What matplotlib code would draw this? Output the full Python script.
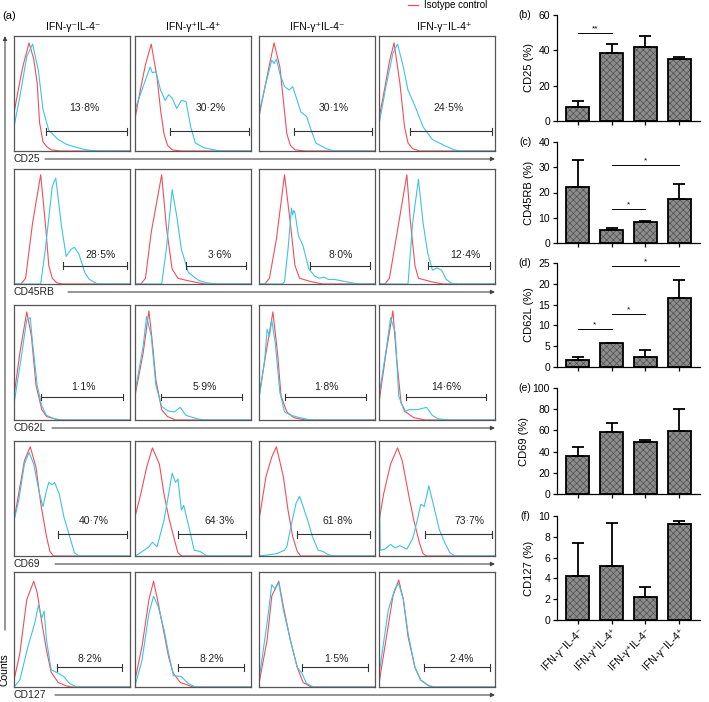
import matplotlib.pyplot as plt

plt.rcParams['font.family'] = ['Liberation Sans', 'DejaVu Sans']
plt.rcParams['hatch.linewidth'] = 0.5

# ---------------------------------------------------------------
# data: histogram traces, (x, y) as fraction of panel width/height
# ---------------------------------------------------------------
groups = ['IFN-\u03b3\u207bIL-4\u207b', 'IFN-\u03b3\u207aIL-4\u207a',
          'IFN-\u03b3\u207aIL-4\u207b', 'IFN-\u03b3\u207bIL-4\u207a']
markers = ['CD25', 'CD45RB', 'CD62L', 'CD69', 'CD127']

cd25_iso = [
    [(0, .33), (.04, .55), (.08, .75), (.13, .94), (.17, .80), (.20, .59), (.22, .25), (.25, .08), (.28, .04), (.32, .01), (.40, 0), (1, 0)],
    [(0, .28), (.04, .50), (.09, .75), (.14, .93), (.19, .64), (.22, .36), (.25, .15), (.28, .05), (.32, .01), (.40, 0), (1, 0)],
    [(0, .30), (.05, .55), (.09, .75), (.13, .94), (.18, .73), (.21, .44), (.24, .15), (.27, .05), (.31, .01), (.40, 0), (1, 0)],
    [(0, .28), (.05, .55), (.09, .78), (.13, .94), (.18, .59), (.22, .21), (.25, .07), (.29, .02), (.35, 0), (1, 0)],
]
cd25_stain = [
    [(0, .21), (.05, .47), (.11, .82), (.16, .93), (.21, .70), (.25, .36), (.30, .18), (.38, .10), (.45, .06), (.51, .04), (.58, .02), (.66, .005), (.72, 0), (1, 0)],
    [(0, .36), (.07, .56), (.13, .73), (.15, .68), (.18, .69), (.22, .53), (.26, .44), (.29, .49), (.32, .46), (.36, .37), (.40, .44), (.44, .43), (.48, .21), (.52, .07), (.59, .03), (.68, .01), (.75, 0), (1, 0)],
    [(0, .33), (.06, .59), (.11, .79), (.13, .76), (.15, .80), (.18, .67), (.22, .56), (.26, .53), (.29, .56), (.32, .47), (.36, .34), (.41, .30), (.45, .18), (.49, .07), (.58, .02), (.65, 0), (1, 0)],
    [(0, .23), (.06, .56), (.12, .85), (.16, .93), (.21, .73), (.25, .53), (.31, .39), (.38, .21), (.46, .10), (.58, .04), (.65, .01), (.70, 0), (1, 0)],
]
cd45rb_iso = [
    [(0, 0), (.06, 0), (.10, .05), (.16, .53), (.23, .95), (.27, .53), (.30, .16), (.33, .05), (.37, .01), (.42, 0), (1, 0)],
    [(0, 0), (.05, 0), (.09, .05), (.14, .45), (.23, .95), (.27, .50), (.32, .13), (.37, .05), (.45, .03), (.55, .01), (.60, 0), (1, 0)],
    [(0, 0), (.05, 0), (.09, .05), (.15, .39), (.22, .95), (.27, .53), (.31, .16), (.35, .05), (.45, .02), (.55, 0), (1, 0)],
    [(0, 0), (.05, 0), (.09, .05), (.17, .53), (.24, .95), (.27, .55), (.31, .16), (.34, .05), (.45, .02), (.55, 0), (1, 0)],
]
cd45rb_stain = [
    [(0, 0), (.23, 0), (.27, .30), (.33, .85), (.36, .92), (.41, .50), (.45, .24), (.49, .30), (.52, .32), (.56, .26), (.61, .10), (.65, .04), (.72, 0), (1, 0)],
    [(0, 0), (.23, 0), (.27, .30), (.32, .82), (.36, .59), (.40, .30), (.46, .10), (.55, .03), (.62, .01), (.70, 0), (1, 0)],
    [(0, 0), (.20, 0), (.22, .02), (.25, .30), (.28, .66), (.29, .60), (.30, .64), (.31, .62), (.34, .42), (.38, .33), (.43, .13), (.48, .07), (.52, .05), (.56, .06), (.60, .04), (.65, .04), (.75, .02), (.85, 0), (1, 0)],
    [(0, 0), (.25, 0), (.29, .53), (.34, .91), (.38, .53), (.42, .27), (.46, .12), (.50, .14), (.54, .12), (.58, .04), (.62, .01), (.66, 0), (1, 0)],
]
cd62l_iso = [
    [(0, .21), (.05, .58), (.11, .94), (.15, .73), (.19, .30), (.24, .09), (.28, .03), (.35, .01), (.40, 0), (1, 0)],
    [(0, .21), (.07, .58), (.12, .95), (.15, .67), (.18, .35), (.23, .09), (.28, .03), (.35, 0), (1, 0)],
    [(0, .21), (.06, .58), (.12, .94), (.16, .58), (.19, .21), (.24, .07), (.30, .02), (.40, 0), (1, 0)],
    [(0, .15), (.06, .58), (.12, .95), (.15, .55), (.19, .15), (.23, .07), (.30, .02), (.40, 0), (1, 0)],
]
cd62l_stain = [
    [(0, .14), (.06, .53), (.11, .87), (.14, .89), (.16, .67), (.20, .30), (.24, .12), (.28, .04), (.35, .01), (.40, 0), (1, 0)],
    [(0, .24), (.07, .64), (.10, .90), (.14, .73), (.18, .30), (.23, .12), (.28, .08), (.34, .07), (.39, .11), (.44, .04), (.54, .01), (.60, 0), (1, 0)],
    [(0, .18), (.05, .53), (.07, .79), (.09, .73), (.11, .87), (.14, .67), (.18, .24), (.22, .07), (.28, .04), (.35, .02), (.45, 0), (1, 0)],
    [(0, .21), (.06, .60), (.10, .89), (.14, .76), (.17, .21), (.22, .07), (.26, .09), (.33, .09), (.41, .11), (.46, .04), (.51, .01), (.60, 0), (1, 0)],
]
cd69_iso = [
    [(0, .31), (.04, .54), (.09, .83), (.14, .95), (.19, .77), (.23, .46), (.28, .17), (.31, .04), (.34, 0), (1, 0)],
    [(0, .34), (.05, .54), (.10, .77), (.15, .94), (.21, .80), (.25, .54), (.29, .34), (.34, .14), (.37, .03), (.40, 0), (1, 0)],
    [(0, .31), (.06, .69), (.11, .86), (.15, .95), (.21, .69), (.25, .40), (.29, .17), (.33, .04), (.36, 0), (1, 0)],
    [(0, .30), (.04, .54), (.10, .80), (.16, .94), (.20, .83), (.26, .51), (.30, .31), (.35, .11), (.38, .02), (.41, 0), (1, 0)],
]
cd69_stain = [
    [(0, .31), (.04, .48), (.09, .80), (.13, .90), (.17, .80), (.22, .54), (.25, .43), (.28, .57), (.30, .64), (.33, .62), (.35, .64), (.39, .54), (.43, .34), (.48, .17), (.52, .03), (.56, 0), (1, 0)],
    [(0, 0), (.05, .03), (.12, .08), (.15, .12), (.19, .08), (.25, .31), (.29, .54), (.32, .72), (.35, .64), (.37, .67), (.40, .40), (.42, .44), (.47, .23), (.51, .05), (.56, .04), (.62, 0), (1, 0)],
    [(0, 0), (.08, .01), (.15, .02), (.22, .05), (.24, .08), (.28, .28), (.32, .46), (.35, .52), (.38, .43), (.42, .31), (.46, .17), (.51, .05), (.55, .04), (.60, .01), (.65, 0), (1, 0)],
    [(0, .95), (.01, .05), (.05, .06), (.10, .10), (.14, .07), (.18, .09), (.24, .06), (.29, .15), (.33, .31), (.36, .45), (.39, .43), (.43, .61), (.48, .40), (.52, .23), (.57, .11), (.61, .03), (.65, 0), (1, 0)],
]
cd127_iso = [
    [(0, .06), (.05, .29), (.11, .76), (.17, .92), (.20, .82), (.24, .56), (.28, .32), (.32, .13), (.38, .04), (.45, .01), (.50, 0), (1, 0)],
    [(0, .06), (.06, .35), (.12, .76), (.16, .92), (.20, .73), (.25, .47), (.29, .26), (.33, .12), (.39, .04), (.50, 0), (1, 0)],
    [(0, .03), (.07, .41), (.11, .79), (.17, .92), (.21, .70), (.27, .41), (.33, .17), (.38, .04), (.45, 0), (1, 0)],
    [(0, .03), (.06, .41), (.12, .79), (.17, .93), (.21, .76), (.25, .44), (.31, .17), (.36, .06), (.43, .01), (.48, 0), (1, 0)],
]
cd127_stain = [
    [(0, 0), (.05, .06), (.12, .35), (.18, .56), (.21, .71), (.24, .60), (.26, .66), (.28, .41), (.32, .15), (.38, .12), (.43, .09), (.48, .03), (.54, 0), (1, 0)],
    [(0, .01), (.06, .23), (.12, .64), (.16, .79), (.20, .70), (.25, .50), (.29, .29), (.33, .10), (.40, .09), (.46, .03), (.52, 0), (1, 0)],
    [(0, .06), (.07, .56), (.11, .89), (.14, .85), (.17, .91), (.21, .67), (.27, .41), (.33, .17), (.37, .12), (.41, .03), (.47, 0), (1, 0)],
    [(0, .10), (.03, .32), (.08, .67), (.12, .80), (.14, .86), (.17, .90), (.21, .76), (.25, .47), (.31, .17), (.36, .06), (.43, .01), (.48, 0), (1, 0)],
]

# gated percentages and gate ranges (fraction of axis)
cd25_pct = ['13\u00b78%', '30\u00b72%', '30\u00b71%', '24\u00b75%']
cd45rb_pct = ['28\u00b75%', '3\u00b76%', '8\u00b70%', '12\u00b74%']
cd62l_pct = ['1\u00b71%', '5\u00b79%', '1\u00b78%', '14\u00b76%']
cd69_pct = ['40\u00b77%', '64\u00b73%', '61\u00b78%', '73\u00b77%']
cd127_pct = ['8\u00b72%', '8\u00b72%', '1\u00b75%', '2\u00b74%']

cd25_gate = [(.28, .97), (.30, .98), (.30, .97), (.27, .97)]
cd45rb_gate = [(.42, .97), (.44, .96), (.44, .96), (.42, .96)]
cd62l_gate = [(.23, .94), (.22, .92), (.22, .92), (.23, .92)]
cd69_gate = [(.38, .97), (.37, .96), (.33, .96), (.40, .97)]
cd127_gate = [(.37, .93), (.37, .94), (.37, .94), (.39, .96)]

# bar chart summaries (mean, upper SEM)
cd25_mean = [8.1, 38.3, 41.7, 34.9]
cd25_err = [3.2, 5.1, 6.4, 1.1]
cd45rb_mean = [22.2, 5.1, 8.3, 17.5]
cd45rb_err = [10.6, 0.8, 0.4, 5.7]
cd62l_mean = [1.6, 5.8, 2.5, 16.7]
cd62l_err = [0.8, 0.0, 1.5, 4.2]
cd69_mean = [35.6, 58.5, 49.0, 59.5]
cd69_err = [9.0, 8.5, 2.0, 20.5]
cd127_mean = [4.2, 5.2, 2.2, 9.2]
cd127_err = [3.2, 4.1, 1.0, 0.3]

# significance brackets: (bar i, bar j, height, label)
cd25_sig = [(0, 1, 49.6, '**')]
cd45rb_sig = [(1, 3, 30.9, '*'), (1, 2, 13.6, '*')]
cd62l_sig = [(0, 1, 9.1, '*'), (1, 2, 12.7, '*'), (1, 3, 24.2, '*')]

# ---------------------------------------------------------------
W, H = 709, 702
fig = plt.figure(figsize=(W / 100, H / 100), dpi=100)

RED = '#ef4f5c'
CYAN = '#3ec4e0'
FRAME = '#555555'


def px_axes(x, y, w, h):
    return fig.add_axes([x / W, 1 - (y + h) / H, w / W, h / H])


# overlay in pixel coordinates for labels and axis arrows
over = fig.add_axes([0, 0, 1, 1])
over.set_xlim(0, W)
over.set_ylim(H, 0)
over.axis('off')

col_x = [14, 135, 259, 379]
row_y = [36, 169, 305, 441, 572]
PW, PH = 116, 115

iso_rows = [cd25_iso, cd45rb_iso, cd62l_iso, cd69_iso, cd127_iso]
stain_rows = [cd25_stain, cd45rb_stain, cd62l_stain, cd69_stain, cd127_stain]
pct_rows = [cd25_pct, cd45rb_pct, cd62l_pct, cd69_pct, cd127_pct]
gate_rows = [cd25_gate, cd45rb_gate, cd62l_gate, cd69_gate, cd127_gate]

# per-row layout: gate bar height, text height, text x for each column
gate_y = [.17, .16, .20, .19, .17]
text_y = [.37, .25, .29, .30, .24]
text_x = [[.61, .65, .64, .60], [.75, .73, .70, .74], [.60, .60, .58, .58],
          [.69, .73, .68, .78], [.65, .66, .67, .71]]
axis_start = [45, 68, 52, 55, 55]

for r in range(5):
    for c in range(4):
        ax = px_axes(col_x[c], row_y[r], PW, PH)
        iso = iso_rows[r][c]
        st = stain_rows[r][c]
        ax.plot([p[0] for p in iso], [p[1] for p in iso], color=RED, lw=0.8)
        ax.plot([p[0] for p in st], [p[1] for p in st], color=CYAN, lw=0.8)
        g0, g1 = gate_rows[r][c]
        gy = gate_y[r]
        ax.plot([g0, g1], [gy, gy], color='#333333', lw=0.8)
        for gx in (g0, g1):
            ax.plot([gx, gx], [gy - 0.03, gy + 0.03], color='#333333', lw=0.8)
        ax.text(text_x[r][c], text_y[r], pct_rows[r][c], ha='center', va='center',
                fontsize=7.5, color='#222222')
        ax.set_xlim(0, 1)
        ax.set_ylim(0, 1)
        ax.set_xticks([])
        ax.set_yticks([])
        for s in ax.spines.values():
            s.set_color(FRAME)
            s.set_linewidth(0.9)

    ly = row_y[r] + PH + 8
    over.text(14, ly, markers[r], ha='left', va='center', fontsize=7.5, color='#222222')
    over.annotate('', xy=(495, ly), xytext=(axis_start[r], ly),
                  arrowprops=dict(arrowstyle='-|>', lw=0.8, color='#444444',
                                  mutation_scale=6, shrinkA=0, shrinkB=0))

# left "Counts" axis
over.annotate('', xy=(5, 36), xytext=(5, 630),
              arrowprops=dict(arrowstyle='-|>', lw=0.8, color='#444444',
                              mutation_scale=6, shrinkA=0, shrinkB=0))
over.text(5, 670, 'Counts', rotation=90, ha='center', va='center', fontsize=7.5)
over.text(2, 16, '(a)', ha='left', va='center', fontsize=8)

title_x = [73, 193, 317, 444]
for c in range(4):
    over.text(title_x[c], 27, groups[c], ha='center', va='center', fontsize=7.5)

# legend
over.plot([408, 418], [5, 5], color=RED, lw=0.9)
over.text(424, 5.5, 'Isotype control', ha='left', va='center', fontsize=7)

# ---------------------------------------------------------------
# bar charts
# ---------------------------------------------------------------
means = [cd25_mean, cd45rb_mean, cd62l_mean, cd69_mean, cd127_mean]
errs = [cd25_err, cd45rb_err, cd62l_err, cd69_err, cd127_err]
sigs = [cd25_sig, cd45rb_sig, cd62l_sig, [], []]
ylabels = ['CD25 (%)', 'CD45RB (%)', 'CD62L (%)', 'CD69 (%)', 'CD127 (%)']
yticks = [[0, 20, 40, 60], [0, 10, 20, 30, 40], [0, 5, 10, 15, 20, 25],
          [0, 20, 40, 60, 80, 100], [0, 2, 4, 6, 8, 10]]
letters = ['(b)', '(c)', '(d)', '(e)', '(f)']
bar_top = [15, 142, 263, 388, 516]
bar_bot = [121, 243, 367, 494, 620]
pos = [0, 1, 2, 3]

for i in range(5):
    ax = px_axes(557, bar_top[i], 143, bar_bot[i] - bar_top[i])
    ax.bar(pos, means[i], width=0.68, color='#8c8c8c', hatch='xxxxx',
           edgecolor='#505050', lw=0, zorder=2)
    ax.bar(pos, means[i], width=0.68, fill=False, edgecolor='black', lw=1.3, zorder=3)
    ax.errorbar(pos, means[i], yerr=[[0] * 4, errs[i]], fmt='none', ecolor='black',
                elinewidth=1.3, capsize=4, capthick=1.3, zorder=4)
    for a, b, h, lab in sigs[i]:
        ax.plot([a, b], [h, h], color='black', lw=0.7, clip_on=False)
        ax.annotate(lab, xy=((a + b) / 2, h), xytext=(0, 0.5), textcoords='offset points',
                    ha='center', va='bottom', fontsize=6, annotation_clip=False)
    ax.set_xlim(-0.62, 3.62)
    ax.set_ylim(0, yticks[i][-1])
    ax.set_yticks(yticks[i])
    ax.set_xticks(pos)
    if i == 4:
        ax.set_xticklabels(groups, rotation=45, ha='right', va='top',
                           rotation_mode='anchor', fontsize=6.5)
    else:
        ax.set_xticklabels([])
    ax.tick_params(axis='both', length=3, width=0.9, labelsize=7.5, pad=2)
    ax.spines['top'].set_visible(False)
    ax.spines['right'].set_visible(False)
    ax.spines['left'].set_linewidth(0.9)
    ax.spines['bottom'].set_linewidth(0.9)
    ax.set_ylabel(ylabels[i], fontsize=8, labelpad=3)
    over.text(525, bar_top[i], letters[i], ha='center', va='center', fontsize=7.5)

fig.savefig('out.png', dpi=100)
